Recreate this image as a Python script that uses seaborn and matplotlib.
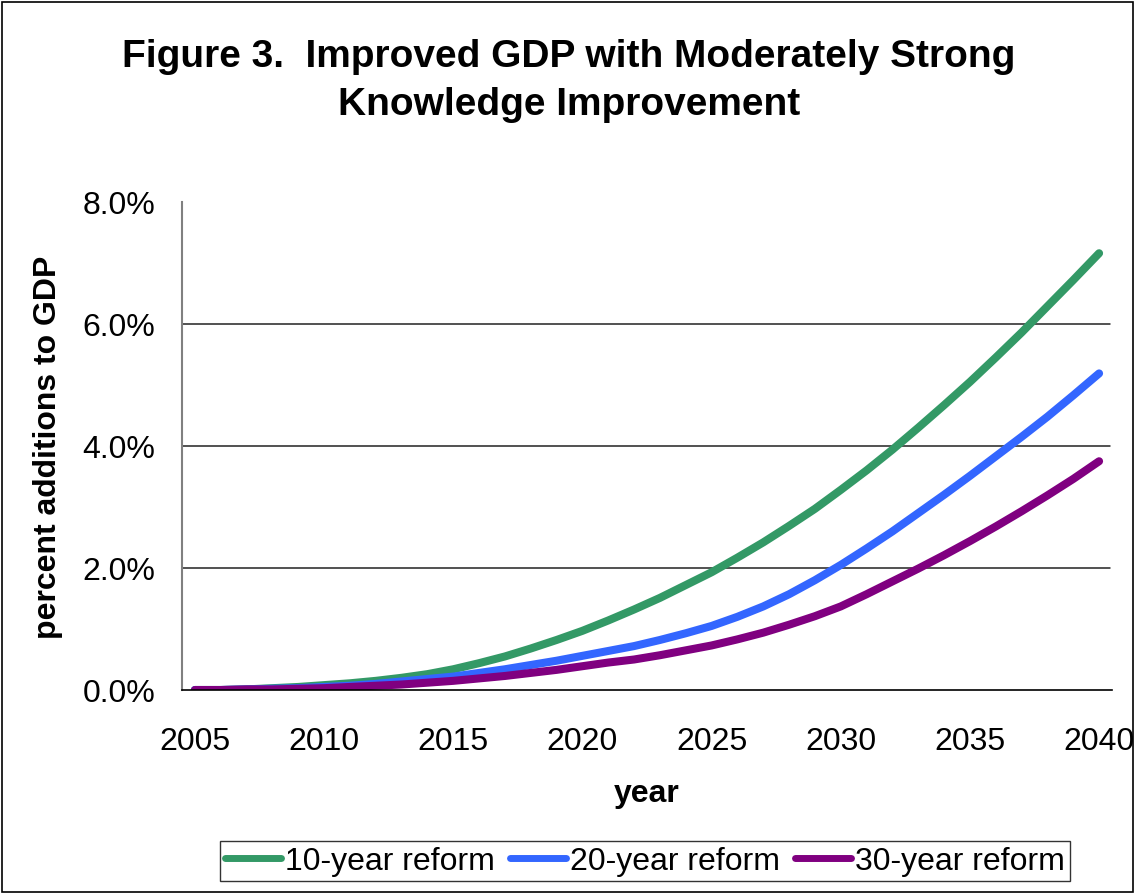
import matplotlib
matplotlib.use("Agg")
import matplotlib.pyplot as plt
from matplotlib.patches import Rectangle
from matplotlib.ticker import FixedLocator, FuncFormatter
import numpy as np
import pandas as pd
import seaborn as sns

# Years on the horizontal axis
years = list(range(2005, 2041))

# Percent additions to GDP by reform length
reform_10yr = [0.00, 0.00, 0.01, 0.03, 0.05, 0.08, 0.11, 0.15, 0.20, 0.26,
               0.34, 0.44, 0.55, 0.68, 0.82, 0.97, 1.14, 1.32, 1.51, 1.72,
               1.93, 2.17, 2.42, 2.69, 2.97, 3.28, 3.60, 3.94, 4.30, 4.67,
               5.05, 5.45, 5.86, 6.29, 6.72, 7.16]
reform_20yr = [0.00, 0.00, 0.01, 0.02, 0.03, 0.05, 0.07, 0.10, 0.14, 0.18,
               0.22, 0.28, 0.34, 0.41, 0.48, 0.56, 0.64, 0.72, 0.82, 0.93,
               1.05, 1.20, 1.37, 1.57, 1.80, 2.05, 2.32, 2.60, 2.90, 3.20,
               3.51, 3.83, 4.15, 4.48, 4.83, 5.19]
reform_30yr = [0.00, 0.00, 0.01, 0.01, 0.02, 0.03, 0.05, 0.07, 0.09, 0.12,
               0.15, 0.19, 0.23, 0.28, 0.33, 0.39, 0.45, 0.50, 0.57, 0.65,
               0.73, 0.83, 0.94, 1.07, 1.21, 1.37, 1.57, 1.78, 1.99, 2.21,
               2.44, 2.68, 2.93, 3.19, 3.46, 3.75]

series_names = ["10-year reform", "20-year reform", "30-year reform"]
series_colors = ["#339966", "#3366FF", "#800080"]

y_ticks = [0, 2, 4, 6, 8]
x_label_years = [2005, 2010, 2015, 2020, 2025, 2030, 2035, 2040]

df = pd.DataFrame({
    "year": years * 3,
    "value": reform_10yr + reform_20yr + reform_30yr,
    "series": np.repeat(series_names, len(years)),
})

sns.set_style("white")
plt.rcParams["font.family"] = ["Liberation Sans", "DejaVu Sans"]
plt.rcParams["text.color"] = "black"
plt.rcParams["axes.labelcolor"] = "black"
plt.rcParams["xtick.labelcolor"] = "black"
plt.rcParams["ytick.labelcolor"] = "black"

W, H = 1138, 895
fig = plt.figure(figsize=(W / 100, H / 100), dpi=100)
fig.patch.set_facecolor("white")
ax = fig.add_axes([182 / W, 1 - 691 / H, (1112 - 182) / W, (691 - 203) / H])

sns.lineplot(data=df, x="year", y="value", hue="series",
             palette=dict(zip(series_names, series_colors)),
             linewidth=5.8, ax=ax, legend=True)
for ln in ax.get_lines():
    ln.set_solid_capstyle("round")
    ln.set_solid_joinstyle("round")

ax.set_xlim(years[0] - 0.5, years[-1] + 0.5)
ax.set_ylim(0, 8)

# Horizontal gridlines
for yv in y_ticks[1:-1]:
    ax.axhline(yv, xmin=0, xmax=(1110 - 182) / (1112 - 182),
               color="#222222", linewidth=1.1, zorder=0)

# Spines
for s in ["top", "right"]:
    ax.spines[s].set_visible(False)
ax.spines["left"].set_color("#808080")
ax.spines["left"].set_linewidth(1.5)
ax.spines["bottom"].set_color("black")
ax.spines["bottom"].set_linewidth(1.2)

# Y ticks
ax.yaxis.set_major_locator(FixedLocator(y_ticks))
ax.yaxis.set_major_formatter(FuncFormatter(lambda v, p: f"{v:.1f}%"))
ax.tick_params(axis="y", which="major", direction="out", length=8,
               width=1.2, color="#444444", labelsize=23, pad=11)

# X ticks: labels every five years, tick marks between every year
ax.xaxis.set_major_locator(FixedLocator(x_label_years))
ax.xaxis.set_major_formatter(FuncFormatter(lambda v, p: f"{int(v)}"))
ax.xaxis.set_minor_locator(FixedLocator([y - 0.5 for y in years] + [years[-1] + 0.5]))
ax.tick_params(axis="x", which="major", length=0, labelsize=23, pad=26)
ax.tick_params(axis="x", which="minor", direction="out", length=7,
               width=1.2, color="#555555")

ax.set_xlabel("year", fontsize=23, fontweight="bold", labelpad=16)
ax.set_ylabel("percent additions to GDP", fontsize=23, fontweight="bold",
              labelpad=14)

fig.text(569 / W, 1 - 81 / H,
         "Figure 3.  Improved GDP with Moderately Strong\nKnowledge Improvement",
         ha="center", va="center", fontsize=28, fontweight="bold",
         linespacing=1.42)

# Legend along the bottom
handles, labels = ax.get_legend_handles_labels()
ax.legend_.remove()
leg = fig.legend(handles, labels, loc="center", ncol=3,
                 bbox_to_anchor=(645 / W, 1 - 862 / H),
                 fontsize=23, frameon=True, fancybox=False,
                 edgecolor="black", handlelength=1.75, handletextpad=0.15,
                 columnspacing=0.45, borderpad=0.15, borderaxespad=0)
leg.get_frame().set_linewidth(1.0)
for lh in leg.get_lines():
    lh.set_linewidth(5.0)
    lh.set_solid_capstyle("round")

# Outer chart border
fig.add_artist(Rectangle((2 / W, 2 / H), (1133 - 2) / W, (892 - 2) / H,
                         transform=fig.transFigure, fill=False,
                         edgecolor="black", linewidth=1.2))

fig.savefig("out.png", dpi=100)
